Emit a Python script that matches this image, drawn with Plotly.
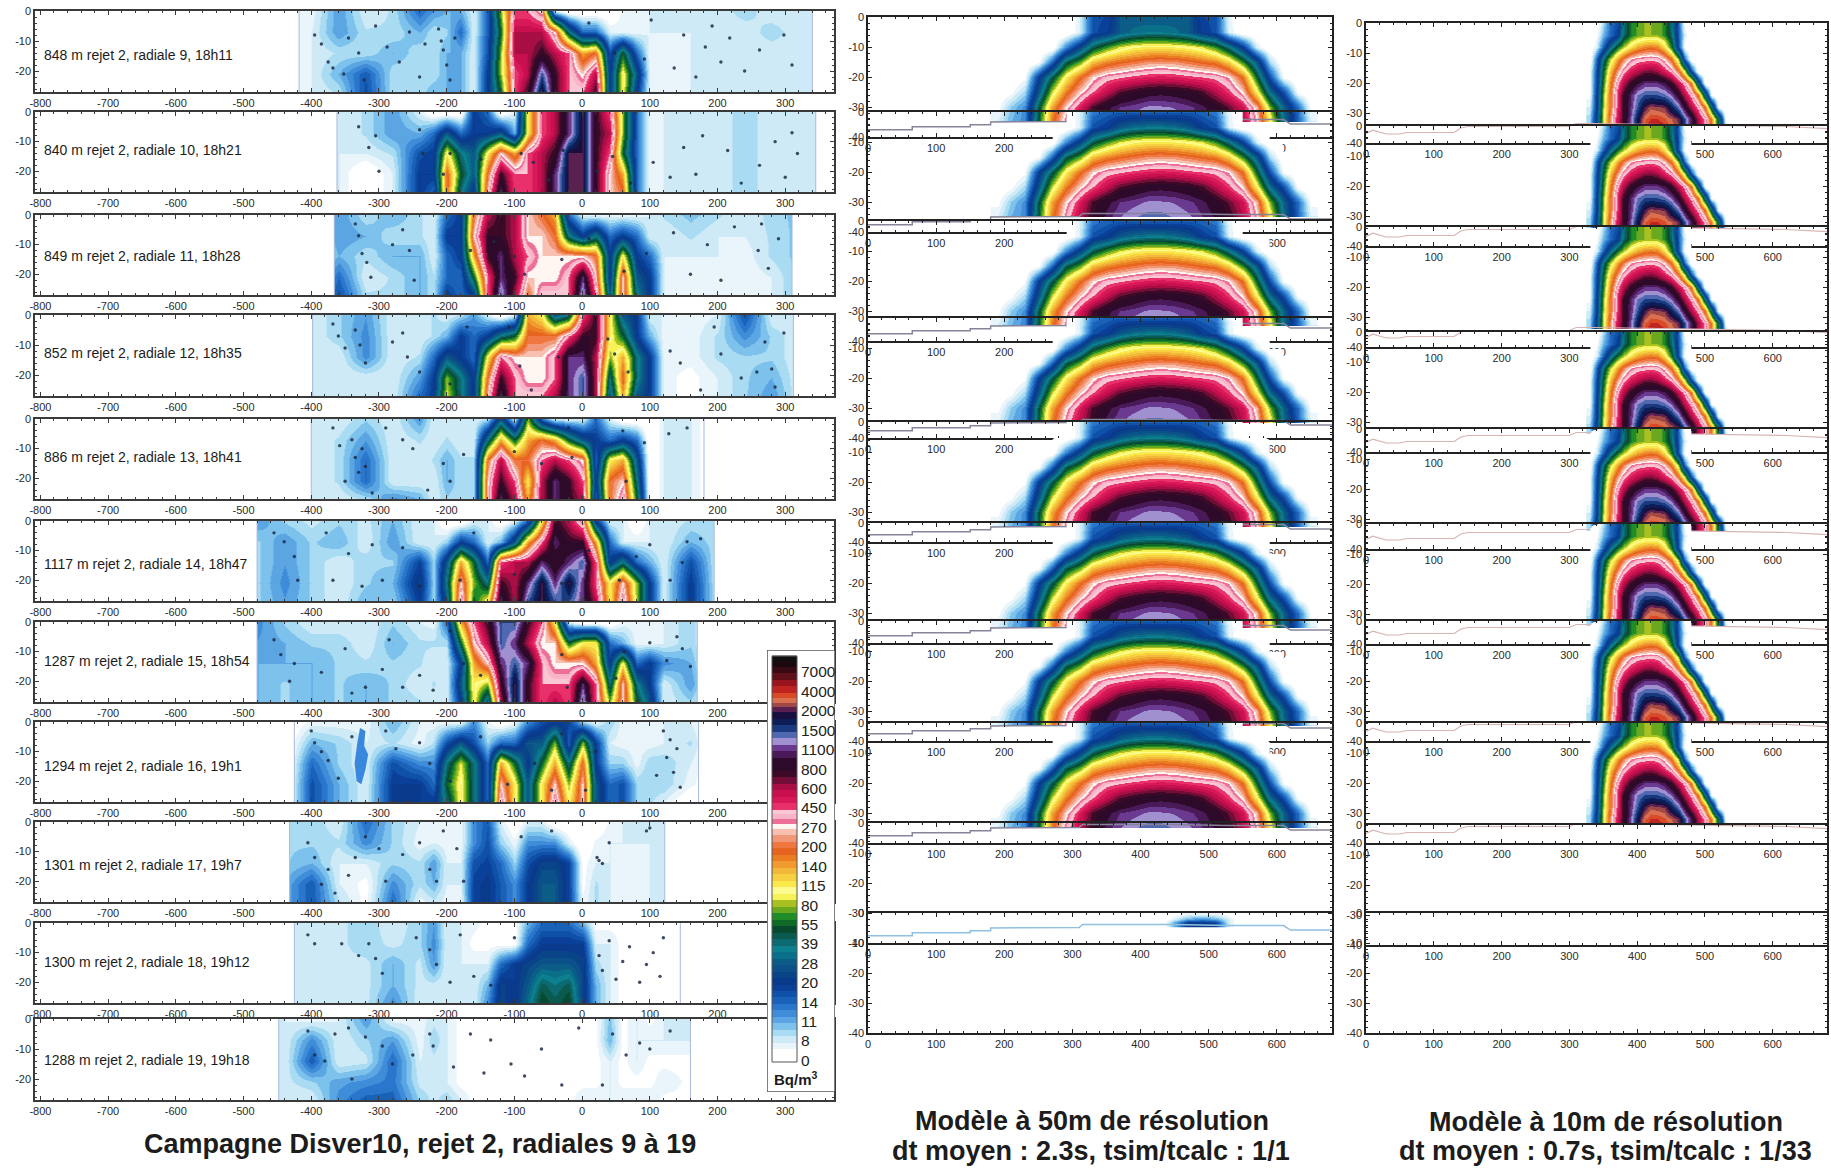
import plotly.graph_objects as go

W, H = 1831, 1168
FONT = "Liberation Sans"

# ---- colour key: legend class labels, bottom class first ----
LEVEL_LABELS = ["0","8","11","14","20","28","39","55","80","115","140","200","270","450","600","800","1100","1500","2000","4000","7000"]
BANDS = [
 ["#ffffff","#ffffff","#eaf5fb"],
 ["#cfeaf7","#a9dcf3","#7cc2ec"],
 ["#5aa5e2","#3f8dd8","#2a76cc"],
 ["#1a62b8","#0f50a8","#0b4098"],
 ["#0a3a8c","#0a4488","#0b5088"],
 ["#0b5c86","#0a6f88","#0d8090"],
 ["#0c6a70","#0a5a50","#084a30"],
 ["#0f6a28","#1f8c28","#6aa820"],
 ["#a8c020","#f6f258","#fbfb90"],
 ["#fbe84a","#f6d040","#f2b83a"],
 ["#f09a30","#ea7d22","#e66420"],
 ["#f07840","#f09878","#f8c0b0"],
 ["#fff6f2","#ec7098","#f9b4c8","#f9c8d4"],
 ["#e8306a","#d81858","#c81050"],
 ["#a80e44","#700e38","#3c0a26"],
 ["#2e0a2a","#2e0a2a","#4a1a58"],
 ["#6a3a90","#a090d0","#5068b0"],
 ["#1a3a80","#0c1e58","#1a1040"],
 ["#5a2050","#a04848","#d87050","#d84a28"],
 ["#c02420","#981520","#601018"],
 ["#3a0a14","#1a0a10","#101010"],
]

# ---- field campaign: nodes of the section (m) and depths (m) ----
LEFT_X = [-480,-440,-400,-360,-320,-280,-240,-220,-200,-180,-160,-140,-120,-100,-80,-60,-40,-20,0,20,40,60,80,100,120,160,200,240,280,320,350]
LEFT_DEPTH = [0,-7,-14,-21,-27]
LEFT_TICKS = [-800,-700,-600,-500,-400,-300,-200,-100,0,100,200,300]

P09 = [[.8,.8,.8,2.3,1, 1.4,3,2.3,2,2, 1,3.3,8,13,13, 12,1,0,0,0, 0,.8,.8,1,1, 1,1,1.6,1,1, 1],
       [.8,.8,1,2.3,1.4, 1.4,2,1.4,1.6,3, 1,3.3,7,14,14, 14,12,6,3,3, 1,.8,.8,1,1, 1,1,1,1.6,1, 1],
       [.8,.8,1,1.4,1.4, 2,1.4,1.4,2,2, 1,3.5,8,14,14, 15,14,13,10,11, 3.5,7,3,.8,.8, 1,1,1,1,1, 1],
       [.8,.8,1,2,3.3, 1.4,1.4,1.4,2,2, 1,4,8,13,14, 17,15,13,12,14, 4,9,5,.8,.8, 1,1,1,1,1, 1],
       [.8,.8,1,1.4,3.5, 1.4,1.4,2,2,2, 1,4,7,13,15, 18,15,13,13,15, 4,9,4,.8,.8, 1,1,1,1,1, 1]]
P10 = [[1,1,1,1,1.4, 2.3,1,0,0,0, 4,3,0,1,9, 13,14,16,18,15, 13,8,3,.8,1, 1,1,1.6,1,1, 1],
       [1,1,1,1,1.4, 2.3,2,3,5,3, 4,4,5,2,9, 13,14,16,18,15, 14,8,3,.8,1, 1,1,1.6,1,1, 1],
       [1,1,1,1,1, 1.4,3.5,4,9,6, 5,9,12,10,13, 14,15,18,18,15, 13,7,3,.8,1, 1,1,1.6,1,1, 1],
       [1,1,1,1,0, 1,4,4,11,7, 5,11,15,13,13, 14,16,18,18,15, 12,10,3,.8,1, 1,1,1.6,1,1, 1],
       [1,1,1,1,0, 1,4,3,11,6, 4,12,16,13,13, 14,16,18,18,15, 12,11,3,.8,1, 1,1,1.6,1,1, 1]]
P11 = [[1,1,1,2.3,1.4, 2,1.4,1,3,4, 11,14,15,14,12, 11,10,3,1,.8, .8,.8,.8,1,1.4, 1.8,1.4,1,1.5,1.8, 1],
       [1,1,1,2.3,2, 1.4,1.4,1,4,4, 12,15,15,14,12, 12,11,6,4,6, 3,4,3,1,1, 1.4,1,1,1.4,1.8, 1],
       [1,1,1,2,1.4, 2,2,1,3,4, 10,15,16,14,13, 12,12,12,12,11, 4,9,4,3,1, 1,1,.8,1.4,1.8, 1],
       [1,1,1,3,1, 1.4,2,1.4,3,3, 7,13,16,15,12, 12,12,13,16,12, 4,12,5,4,1, .8,.8,.8,1,1.8, 1],
       [1,1,1,3.5,1.4, 1.4,2,1.4,4,3, 4,13,17,14,11, 13,13,13,17,13, 5,12,6,4,1, .8,.8,.8,1,1.8, 1]]
P12 = [[1,1,1,1.6,2.3, 1,1,1.4,1,1.4, 2.3,1,0,1,10, 9,5,6,13,15, 9,5,4,1,1, .8,1,3.5,1,1, 1],
       [1,1,1,1.6,2.5, 1,1,1.4,2,4, 3,4,6,7,11, 11,11,13,15,15, 9,7,4,2,.8, .8,1.4,2.5,1.6,1, 1],
       [1,1,1,1,2.5, 1,1.4,3,5,4, 3,9,13,12,12, 12,13,16,16,14, 8,10,6,4,.8, .8,1.4,1.6,1.6,1, 1],
       [1,1,1,1,1, 1,2.3,4,8,6, 4,11,15,13,12, 12,13,16,17,14, 6,11,6,4,.8, .5,1,1.6,2,1, 1],
       [1,1,1,1,1, 1,3,4,8.5,6, 4,12,16,13,13, 13,14,16,17,14, 5,10,5,4,.8, .5,1,1.6,2.3,1, 1]]
P13 = [[1,1,1,1,1.6, 1,2.3,1,1,1, 1,1.4,5,1,8, 3,1,1,1,3, 1,0,0,0,1, 1,0,0,0,0, 0],
       [1,1,1,1.4,2.3, 1,1.4,1,1.4,1, 1,6,10,7,10, 11,10,7,5,4, 3,4,3,0,1, 1,0,0,0,0, 0],
       [1,1,1,1.4,3, 1,1,1.4,2,1.4, 1.4,11,14,11,11, 13,14,13,12,3, 9,10,5,0,1, 1,0,0,0,0, 0],
       [1,1,1,1.4,3, 1,1,1,2,1.4, 1.4,12,15,13,9, 14,16,15,13,4, 11,12,6,0,1, 1,0,0,0,0, 0],
       [1,1,1,1,1.4, 2.5,2,1,1.6,1.4, 1.4,12,16,14,10, 14,16,15,14,3, 11,13,7,0,1, 1,0,0,0,0, 0]]
P14 = [[2.3,1.6,1.2,1.6,1.2, 2,1,1,0,0, 1,1,0,1,3, 9,15,14,12,4, 1,1,0,1,1, 1.4,1.4,0,0,0, 0],
       [1.6,2.3,1.6,2,1, 2.3,1,1,1.6,4, 3,1,2,5,10, 13,16,15,15,10, 3,1,1,1,1, 2,1.4,0,0,0, 0],
       [1.6,2.3,1.6,1,1.6, 1.6,3.8,1.6,5,10, 7,3,13,14,14, 16,15,16,17,13, 4,6,3,2,1, 3.5,1,0,0,0, 0],
       [1.6,2.5,1.6,1,1.6, 2,4.5,1.6,6,12, 8,6,15,14,16, 18,16,18,16,13, 9,12,8,4,1, 4,1,0,0,0, 0],
       [1.6,2.3,1.6,1,2, 1.6,4,1.6,5,13, 7,9,16,14,17, 18,17,17,16,14, 9,13,8,4,1, 4,1,0,0,0, 0]]
P15 = [[2.5,1.6,1,1,1, 1.6,1,.8,3,10, 13,15,17,17,15, 13,9,1,0,0, 0,.8,.8,.8,1, 1.6,0,0,0,0, 0],
       [2.3,2,1.6,1.6,1, 2,1.4,1.4,1.4,7, 12,14,17,16,14, 12,12,7,9,9, 3,2,.8,.8,1, 1.6,0,0,0,0, 0],
       [2,2,2,1.6,1.4, 1.6,1.4,1,1,4, 10,12,16,17,16, 13,12,12,12,10, 4,9,3,4,2.5, 2,0,0,0,0, 0],
       [2,1.6,2,1.6,2, 1.6,1,1.4,1,5, 9,8,15,18,15, 13,13,13,16,13, 6,12,6,4,1, 2.3,0,0,0,0, 0],
       [2,1.6,2,1.6,2, 1.6,1.4,1,1,4, 9,5,14,18,15, 13,14,13,17,13, 8,12,7,5,1, 1.6,0,0,0,0, 0]]
P16 = [[0,0,.8,.8,.8, 2,1,.8,.8,.8, 2.5,.8,0,.8,2.5, 3.5,4,3.8,1.6,.8, 1.6,.8,.8,.8,1, 1,0,0,0,0, 0],
       [0,0,2,1.6,1, 1.4,.8,1.4,3.5,5, 3.5,1.6,3,3,5, 5,8,3,8,4, 1,.8,.8,.8,1, 1.4,0,0,0,0, 0],
       [0,0,3,1.6,1, 3.5,2.5,2.5,6,8.5, 6,3,10,7,4, 7,10,6,11,4, 1.6,1.6,.8,1.6,1.6, 1,0,0,0,0, 0],
       [0,0,3.5,2,1, 4,4,3,7,9, 6,3,12,9,5, 9,12,8,12,5, 3,3.5,1.6,1.6,1.6, .8,0,0,0,0, 0],
       [0,0,3.5,2,1, 4,4,4,6,9, 6,3,13,9,5, 9,13,9,12,5, 3,3.5,1.6,1.4,1, 0,0,0,0,0, 0]]
P17 = [[1.6,1.6,1.6,1,3, 1.6,1,.8,.8,.8, 2.5,3.3,1,0,1, 1,0,0,0,0, .8,1,1,1,1, 0,0,0,0,0, 0],
       [1.6,1.6,1.6,1.4,2.5, 1.6,.8,1,.8,.8, 2.5,3.5,1.6,.8,2.5, 2.5,2.5,1,0,.8, 1,1,1,1,1, 0,0,0,0,0, 0],
       [1.6,1.6,2,1,1, 1.6,1.4,2.3,1,1, 3.5,3.8,3,1.6,3.5, 4.5,4.5,3.8,.5,1, 1,.8,.8,1,1, 0,0,0,0,0, 0],
       [2,2,3.3,1,.5, 2.5,1.4,2,1,1, 3.8,4.2,3.3,2.5,4, 5,5,3.8,.5,1.4, 1,.8,.8,1,1, 0,0,0,0,0, 0],
       [2,2,3.3,1.4,.5, 3,.8,1.2,.8,.8, 3.8,4.2,3.3,2.5,4, 5,5,3.8,.8,1.4, 1,.8,.8,1,1, 0,0,0,0,0, 0]]
P18 = [[1,1,1,1.2,1.6, 1,1.6,2.3,1,1, .8,.5,.5,.5,2, 3,3,3,2,.5, .5,.5,.5,.5,.5, 0,0,0,0,0, 0],
       [1.2,1.2,1.2,1.2,1.6, 1.2,1.6,2.5,1,1, .5,.5,.5,.5,3, 4,4,4,4,1, 1,.5,.5,.5,.5, 0,0,0,0,0, 0],
       [1.2,1.2,1.2,1.2,1.2, 2,1.2,2.3,1,1, 1,1,3,4,4.5, 5,5,5,4.5,1.5, 1,.5,.5,.5,.5, 0,0,0,0,0, 0],
       [1.2,1.2,1.2,1.2,1.2, 2,1.2,1.2,1,1, 1,2,4.5,4,5, 6.5,6,6.5,4.5,2, 1,.5,.5,.5,.5, 0,0,0,0,0, 0],
       [1.2,1.2,1.2,1.2,1.2, 2.5,1,1,1,1, 1,2.5,4.5,4,5.5, 7,6.5,7,4.5,2, 1,.5,.5,.5,.5, 0,0,0,0,0, 0]]
P19 = [[1,1,.8,1,2.3, .8,.8,1.2,1,.5, .5,.5,.5,.5,.5, .5,.5,.5,.5,.5, 1.8,.5,1,.5,1, 1,0,0,0,0, 0],
       [1,1,2.5,1,1.6, 2.3,.8,1.6,1,.5, .5,.5,.5,.5,.5, .5,.5,.5,.5,.5, 2,.5,1,1,1, 1,0,0,0,0, 0],
       [1,1,3.3,1,1.2, 3,1,1.2,1,.5, .5,.5,.5,.5,.5, .5,.5,.5,.5,.5, 1,.5,1,.5,.5, .5,0,0,0,0, 0],
       [1.2,1.2,1.6,2.2,2.5, 2.8,1.2,1.2,1,.5, .5,.5,.5,.5,.5, .5,.5,.5,.5,.5, 1,.5,.5,.5,1, .5,0,0,0,0, 0],
       [1,1,1,2.5,3.2, 3.2,1.6,1.2,1.6,1, .5,.5,.5,.5,.5, .5,.5,.5,1,1, 1,1,1,1,.5, .5,0,0,0,0, 0]]
LEFT_FIELDS = [P09,P10,P11,P12,P13,P14,P15,P16,P17,P18,P19]

LEFT_EXTENT = [(-418,340),(-362,345),(-366,310),(-398,312),(-400,180),(-480,195),(-480,170),(-425,172),(-432,122),(-425,145),(-448,160)]
LEFT_NAMES = ["848 m rejet 2, radiale 9, 18h11","840 m rejet 2, radiale 10, 18h21","849 m rejet 2, radiale 11, 18h28",
              "852 m rejet 2, radiale 12, 18h35","886 m rejet 2, radiale 13, 18h41","1117 m rejet 2, radiale 14, 18h47",
              "1287 m rejet 2, radiale 15, 18h54","1294 m rejet 2, radiale 16, 19h1","1301 m rejet 2, radiale 17, 19h7",
              "1300 m rejet 2, radiale 18, 19h12","1288 m rejet 2, radiale 19, 19h18"]

# the isolated patch of radial 16
P16_PATCH_X = [-328,-320,-322,-316,-320,-326,-333,-336,-332,-328]
P16_PATCH_Y = [-2,-3,-8,-11,-16,-21,-20,-14,-7,-2]

# sample points along the vehicle track of each radial
D09_X = [-395,-385,-375,-368,-352,-345,-330,-322,-305,-288,-270,-255,-240,-232,-212,-208,-205,-200,-195,-188,10,48,92,102,136,150,168,182,192,205,218,240,262,298,310]
D09_Y = [-8,-11,-17,-19,-21,-9,-14,-23,-5,-12,-17,-7,-22,-11,-6,-10,-13,-18,-23,-9,-4,-14,-16,-3,-19,-8,-22,-12,-5,-17,-9,-20,-13,-8,-18]
D10_X = [-330,-315,-305,-300,-240,-235,-205,-195,-150,-90,-72,-50,-28,22,45,72,105,130,150,168,178,215,235,262,285,300,310,318]
D10_Y = [-5,-12,-8,-20,-6,-14,-21,-14,-16,-14,-17,-23,-13,-20,-15,-24,-17,-22,-12,-21,-8,-13,-24,-18,-10,-22,-7,-14]
D11_X = [-335,-330,-325,-318,-312,-280,-265,-255,-248,-165,-130,-100,-85,-30,10,62,95,135,160,185,205,225,260,265,275,290]
D11_Y = [-3,-7,-13,-16,-21,-10,-5,-12,-22,-12,-9,-14,-20,-15,-8,-19,-13,-6,-20,-10,-22,-4,-12,-3,-18,-8]
D12_X = [-368,-360,-350,-335,-328,-320,-280,-265,-258,-240,-195,-170,-108,-92,-75,-35,38,48,68,130,145,175,195,205,235,258,270,280,285,298]
D12_Y = [-3,-7,-11,-5,-10,-16,-9,-6,-14,-19,-23,-4,-4,-17,-25,-14,-8,-13,-19,-12,-16,-25,-4,-13,-21,-19,-9,-18,-24,-6]
D13_X = [-368,-358,-350,-340,-335,-330,-325,-320,-310,-290,-265,-250,-228,-205,-195,-175,-100,-60,-20,-15,60,65,92,128,155]
D13_Y = [-3,-9,-21,-7,-13,-18,-10,-16,-25,-3,-7,-10,-24,-15,-21,-12,-11,-15,-3,-13,-4,-21,-8,-5,-3]
D14_X = [-455,-440,-425,-420,-378,-368,-345,-325,-310,-295,-265,-240,-180,-160,-100,-50,-30,10,55,80,100,130,148,155,175]
D14_Y = [-4,-7,-12,-20,-4,-20,-11,-22,-8,-20,-9,-22,-20,-4,-18,-15,-21,-10,-20,-12,-8,-20,-14,-7,-6]
D15_X = [-455,-445,-432,-425,-385,-350,-340,-320,-295,-285,-265,-240,-220,-195,-175,-150,-30,-22,50,62,100,125,140,148,160]
D15_Y = [-6,-11,-20,-14,-17,-9,-24,-22,-16,-6,-22,-18,-23,-3,-14,-18,-11,-22,-19,-10,-7,-13,-5,-9,-15]
D16_X = [-400,-395,-385,-375,-360,-340,-290,-275,-240,-225,-195,-150,-110,-70,-45,-30,5,20,110,120,125,130,135,140,145]
D16_Y = [-3,-7,-10,-13,-19,-5,-3,-9,-7,-14,-20,-5,-21,-14,-23,-4,-23,-10,-18,-3,-12,-6,-17,-9,-22]
D17_X = [-405,-395,-385,-375,-365,-345,-335,-320,-300,-290,-265,-240,-225,-215,-205,-185,-175,-45,-90,40,22,25,30,95,100]
D17_Y = [-7,-12,-21,-16,-24,-18,-12,-5,-9,-20,-11,-7,-16,-20,-3,-9,-20,-3,-5,-7,-12,-13,-14,-3,-2]
D18_X = [-405,-395,-355,-330,-315,-305,-295,-245,-225,-215,-195,-180,-160,-135,-100,25,30,40,50,60,70,85,95,105,115,120]
D18_Y = [-4,-7,-7,-11,-7,-12,-17,-5,-9,-14,-20,-4,-18,-21,-5,-11,-16,-6,-19,-13,-8,-20,-14,-10,-18,-5]
D19_X = [-405,-395,-380,-365,-345,-340,-320,-295,-280,-250,-225,-220,-190,-165,-145,-135,-105,-85,-60,-30,-5,30,45,65,85,100,130]
D19_Y = [-4,-12,-14,-5,-3,-20,-6,-9,-15,-12,-5,-9,-16,-5,-18,-7,-15,-19,-10,-22,-3,-22,-5,-12,-8,-10,-4]
LEFT_DOTS_X = [D09_X,D10_X,D11_X,D12_X,D13_X,D14_X,D15_X,D16_X,D17_X,D18_X,D19_X]
LEFT_DOTS_Y = [D09_Y,D10_Y,D11_Y,D12_Y,D13_Y,D14_Y,D15_Y,D16_Y,D17_Y,D18_Y,D19_Y]

# ---- 50 m model ----
MID_X = [190,210,230,250,270,290,310,330,350,370,390,410,430,450,470,490,510,530,550,570,590,610,630,650]
MID_DEPTH = [0,-5,-10,-15,-20,-25,-30,-34.6,-34.8]
MID_TOP_A = [0,0,0,0,0,0,1,3.5,3.7,5,5,5,5,5,5,3.7,3.5,.8,0,0,0,0,0,0]
MID_TOP_B = [0,0,0,0,0,0,1,2.8,3.1,3.3,3.3,3.3,3.3,3.3,3.3,3.1,2.8,.8,0,0,0,0,0,0]
MID_BODY = [
 [0,0,0,0,0,0,1,3.5,4,5,5.5,5.7,5.7,5.5,5,4,3.5,1,0,0,0,0,0,0],
 [0,0,0,0,0,2.5,4.5,6.5,7.6,8.4,8.9,9.1,9.1,9,8.8,8.4,7.5,6,4,1,0,0,0,0],
 [0,0,0,.5,3,6.5,7.8,9.7,10.4,10.8,11.1,11.4,11.5,11.4,11.1,10.8,10.5,9.5,7.5,5,1.5,0,0,0],
 [0,0,.5,4,6.5,9,10.7,12,12.7,12.9,13.2,13.4,13.5,13.4,13.2,13,12.8,12.2,10.7,7,3.5,.5,0,0],
 [0,.5,1.5,5,8.3,10.5,12,13,13.9,14.7,15.1,15.4,15.5,15.4,15.2,14.8,14,13.2,12,9,5.5,3.5,.5,0],
 [.5,1.7,2.5,6.7,10,12,13.5,14.8,15.5,16,16.2,16.4,16.4,16.3,16.1,15.8,15.3,14.6,13.7,11.7,8,5.2,3,.5],
 [1,2,2.5,7,10.5,12.5,14,15,15.8,16.3,16.6,16.8,16.8,16.6,16.4,16,15.6,15,14,12.2,9,5.5,3,1],
 [1,2,2.5,7,10.5,12.5,14,15,15.8,16.3,16.6,16.8,16.8,16.6,16.4,16,15.6,15,14,12.2,9,5.5,3,1],
]
MID_BLOB_X = [430,450,470,490,510,530,550]
MID_BLOB_DEPTH = [-30.5,-32,-33,-34.6,-34.8]
MID_BLOB = [[0,.5,.8,.8,.8,.5,0],[0,1,2.2,2.5,2.2,1,0],[0,2,4,4.2,3.8,1,0],[0,2,4.2,4.4,4,1,0],[0,2,4.2,4.4,4,1,0]]
MID_TOPS = [17,112,221,318,422,523,621,723,823,913]
MID_BATHY_X = [0,65,65,150,150,180,180,250,255,310,315,445,530,610,620,681]
MID_BATHY_Y = [-37.6,-37.6,-36.6,-36.6,-35.9,-35.9,-35,-35,-34.8,-34.8,-33.8,-33.8,-34.2,-34.2,-35.7,-35.7]

# ---- 10 m model ----
RIGHT_X = [330,340,350,360,370,380,390,400,410,420,430,440,450,460,470,480,490,500,510,520,530,540]
RIGHT_DEPTH = [0,-4,-8,-12,-16,-20,-24,-28,-32,-33.6,-33.8]
RIGHT_BODY = [
 [0,0,1.5,3,3.5,6,7.3,7.7,8,8,7.9,7.5,6,3,.5,0,0,0,0,0,0,0],
 [0,.5,2,3,4,6.2,7.3,7.8,8,8,8,7.5,6.2,3.3,1,0,0,0,0,0,0,0],
 [0,1,3.2,5.5,7.2,8.2,9.2,10,10.4,10.6,10.4,9.3,7.3,3.5,.5,0,0,0,0,0,0,0],
 [0,3,6.2,8.3,10,11.3,12.2,12.6,12.7,12.8,12.7,12,10.7,8,3,0,0,0,0,0,0,0],
 [.5,3.5,7,9.7,11.5,12.7,13.5,14,14.4,14.5,14.2,13.5,12.7,11,8.5,3.5,0,0,0,0,0,0],
 [.5,3.7,7.5,10.5,12.7,14,15,15.6,16,16,16,15.7,15,13.8,12.7,10.5,5,0,0,0,0,0],
 [.5,4,8,11,13.3,15,15.9,16.7,17,17,17,16.8,16.3,15.3,14,12.7,10.5,5.5,.5,0,0,0],
 [1,4,8.3,11,13.3,15,16,17,18,18.4,18.3,18.2,17.5,16.7,15.5,14,12.7,10.5,6,.5,0,0],
 [1.5,4.5,8.5,11.5,13.7,15,16.2,17.7,18.7,19,19,18.8,18.5,18.2,17,15.8,14,12.7,10.5,6.5,.5,0],
 [1.5,4.5,8.5,11.5,13.7,15,16.2,17.7,18.8,19.2,19.2,19,18.6,18.2,17,15.8,14,12.7,10.5,6.5,1,0],
 [1.5,4.5,8.5,11.5,13.7,15,16.2,17.7,18.8,19.2,19.2,19,18.6,18.2,17,15.8,14,12.7,10.5,6.5,1,0],
]
RIGHT_TOPS = [23,126,227,332,429,524,621,723,825,913]
RIGHT_BATHY_X = [0,10,30,50,60,130,140,150,300,310,335,530,620,680]
RIGHT_BATHY_Y = [-36.8,-35.7,-37,-37,-36.5,-36.5,-35,-34.5,-34.5,-33.5,-33.5,-34.2,-34.5,-35.2]

MODEL_TICKS = [0,100,200,300,400,500,600]
MODEL_DEPTH_TICKS = [0,-10,-20,-30,-40]
LEFT_DEPTH_TICKS = [0,-10,-20]

LEFT_TOPS = [11,112,215,315,419,521,622,722,822,923,1019]
LEFT_BOTTOMS = [92,192,295,396,499,601,702,802,902,1003,1100]
LEFT_TEXT_Y = [55,150,256,353,457,564,661,766,865,962,1060]

# ---- colour scale from the key ----
NL = len(BANDS)
scale = [[0, "rgba(255,255,255,0)"], [0.02/NL, "rgba(255,255,255,0)"]]
for L, cols in enumerate(BANDS):
    for k, c in enumerate(cols):
        a = (L + k/len(cols))/NL
        b = (L + (k+1)/len(cols))/NL
        scale += [[max(a, 0.02/NL), c], [b, c]]

fig = go.Figure()
layout = {}
n = 0

def new_axes(px_l, px_r, px_t, px_b, xrange, yrange, xticks, yticks, xminor, yminor, col, lw=1.5, size=11):
    global n
    n += 1
    sfx = "" if n == 1 else str(n)
    tick = dict(showgrid=False, zeroline=False, showline=True, linecolor=col, linewidth=lw, mirror="ticks", automargin=False,
                ticks="inside", ticklen=4, tickwidth=1, tickcolor=col, tickfont=dict(family=FONT, size=size, color="#2a2a2a"),
                tickmode="array")
    layout["xaxis"+sfx] = dict(domain=[px_l/W, px_r/W], range=xrange, anchor="y"+sfx, tickvals=xticks,
                               ticktext=[str(v) for v in xticks],
                               minor=dict(tickmode="linear", tick0=0, dtick=xminor, ticks="inside", ticklen=2, tickcolor=col), **tick)
    layout["yaxis"+sfx] = dict(domain=[1-px_b/H, 1-px_t/H], range=yrange, anchor="x"+sfx, tickvals=yticks,
                               ticktext=[str(v) for v in yticks],
                               minor=dict(tickmode="linear", tick0=0, dtick=yminor, ticks="inside", ticklen=2, tickcolor=col), **tick)
    return ("x"+sfx, "y"+sfx)

def heat(ax, x, depth, rows):
    assert all(len(r) == len(x) for r in rows), (x[0], [len(r) for r in rows])
    assert len(rows) == len(depth)
    fig.add_trace(go.Heatmap(x=x, y=depth[::-1], z=rows[::-1], coloraxis="coloraxis", zsmooth="best",
                             xaxis=ax[0], yaxis=ax[1], hoverinfo="skip"))

def key_axes(px_l, px_r, px_t, px_b, y0, y1):
    global n
    n += 1
    sfx = str(n)
    layout["xaxis"+sfx] = dict(domain=[px_l/W, px_r/W], range=[px_l, px_r], anchor="y"+sfx, visible=False, automargin=False)
    layout["yaxis"+sfx] = dict(domain=[1-px_b/H, 1-px_t/H], range=[y0, y1], anchor="x"+sfx, visible=False, automargin=False)
    return ("x"+sfx, "y"+sfx)

# ---- left column ----
for i, field in enumerate(LEFT_FIELDS):
    ax = new_axes(35, 834, LEFT_TOPS[i], LEFT_BOTTOMS[i], [-808, 372], [-27, 0], LEFT_TICKS, LEFT_DEPTH_TICKS, 20, 2, "#3a3a3a")
    heat(ax, LEFT_X, LEFT_DEPTH, field)
    lo, hi = LEFT_EXTENT[i]
    for a, b in ((-808, lo), (hi, 372)):
        fig.add_trace(go.Scatter(x=[a, b, b, a, a], y=[0, 0, -27, -27, 0], mode="lines", fill="toself",
                                 fillcolor="white", line=dict(width=0), xaxis=ax[0], yaxis=ax[1], hoverinfo="skip"))
    for e in (lo, hi):
        fig.add_trace(go.Scatter(x=[e, e], y=[0, -27], mode="lines", line=dict(color="#a9b8e0", width=1),
                                 xaxis=ax[0], yaxis=ax[1], hoverinfo="skip"))
    if field is P16:
        fig.add_trace(go.Scatter(x=P16_PATCH_X, y=P16_PATCH_Y, mode="lines", fill="toself", fillcolor="#3a88dd",
                                 line=dict(width=0), xaxis=ax[0], yaxis=ax[1], hoverinfo="skip"))
    fig.add_trace(go.Scatter(x=LEFT_DOTS_X[i], y=LEFT_DOTS_Y[i], mode="markers",
                             marker=dict(size=3.4, color="#1c2c46", opacity=0.85), xaxis=ax[0], yaxis=ax[1], hoverinfo="skip"))

# ---- colour key, drawn over the left column ----
BAR_PX_L0, BAR_PX_STEP = 1062, 19.42
y_top = (BAR_PX_L0-650)/BAR_PX_STEP
y_bot = (BAR_PX_L0-1092)/BAR_PX_STEP
ax = key_axes(767, 835, 650, 1092, y_bot, y_top)
fig.add_trace(go.Scatter(x=[767, 835, 835, 767, 767], y=[y_bot, y_bot, y_top, y_top, y_bot], mode="lines", fill="toself",
                         fillcolor="white", line=dict(color="#555", width=1.5), xaxis=ax[0], yaxis=ax[1], hoverinfo="skip"))
ax = key_axes(767, 835, 650, 1092, y_bot, y_top)
bar_edges = [0.05 + j*0.0835 for j in range(251)]
bar_mid = [(a+b)/2 for a, b in zip(bar_edges, bar_edges[1:])]
fig.add_trace(go.Heatmap(x=[772, 797], y=bar_edges, z=[[v] for v in bar_mid], coloraxis="coloraxis", zsmooth=False,
                         xaxis=ax[0], yaxis=ax[1], hoverinfo="skip"))
fig.add_trace(go.Scatter(x=[772, 797, 797, 772, 772], y=[0, 0, 20.9, 20.9, 0], mode="lines", line=dict(color="#555", width=1),
                         xaxis=ax[0], yaxis=ax[1], hoverinfo="skip"))
fig.add_trace(go.Scatter(x=[801]*len(LEVEL_LABELS), y=list(range(len(LEVEL_LABELS))), text=LEVEL_LABELS, mode="text",
                         textposition="middle right", textfont=dict(family=FONT, size=15.5, color="#222"), cliponaxis=False,
                         xaxis=ax[0], yaxis=ax[1], hoverinfo="skip"))

# ---- middle column ----
for i, top in enumerate(MID_TOPS):
    ax = new_axes(868, 1332, top, top+120, [0, 681], [-40, 0], MODEL_TICKS, MODEL_DEPTH_TICKS, 20, 2, "#222", 1.5)
    if i < 8:
        heat(ax, MID_X, MID_DEPTH, [MID_TOP_A if i == 0 else MID_TOP_B] + MID_BODY)
    elif i == 8:
        heat(ax, MID_BLOB_X, MID_BLOB_DEPTH, MID_BLOB)
    colour = "#8fc0e0" if i == 8 else ("rgba(0,0,0,0)" if i == 9 else "#86849a")
    fig.add_trace(go.Scatter(x=MID_BATHY_X, y=MID_BATHY_Y, mode="lines", line=dict(color=colour, width=1.5),
                             xaxis=ax[0], yaxis=ax[1], hoverinfo="skip"))

# ---- right column ----
for i, top in enumerate(RIGHT_TOPS):
    ax = new_axes(1366, 1827, top, top+120, [0, 680], [-40, 0], MODEL_TICKS, MODEL_DEPTH_TICKS, 20, 2, "#222", 1.5)
    if i < 8:
        heat(ax, RIGHT_X, RIGHT_DEPTH, RIGHT_BODY)
    colour = "#d8b4b4" if i < 8 else "rgba(0,0,0,0)"
    fig.add_trace(go.Scatter(x=RIGHT_BATHY_X, y=RIGHT_BATHY_Y, mode="lines", line=dict(color=colour, width=1.2),
                             xaxis=ax[0], yaxis=ax[1], hoverinfo="skip"))

# ---- texts ----
ann = []
def text(px, py, s, size, bold=False, anchor="center"):
    ann.append(dict(xref="paper", yref="paper", x=px/W, y=1-py/H, text=("<b>%s</b>" % s) if bold else s, showarrow=False,
                    xanchor=anchor, yanchor="middle", font=dict(family=FONT, size=size, color="#1c1c1c")))
for s, py in zip(LEFT_NAMES, LEFT_TEXT_Y):
    text(42, py, s, 14, anchor="left")
text(796, 1078, "Bq/m<sup>3</sup>", 15, bold=True)
text(420, 1144, "Campagne Disver10, rejet 2, radiales 9 à 19", 27, bold=True)
text(1092, 1121, "Modèle à 50m de résolution", 27, bold=True)
text(1091, 1151, "dt moyen : 2.3s, tsim/tcalc : 1/1", 27, bold=True)
text(1606, 1122, "Modèle à 10m de résolution", 27, bold=True)
text(1605, 1151, "dt moyen : 0.7s, tsim/tcalc : 1/33", 27, bold=True)

fig.update_layout(width=W, height=H, margin=dict(l=0, r=0, t=0, b=0), autosize=False, showlegend=False,
                  paper_bgcolor="white", plot_bgcolor="rgba(0,0,0,0)",
                  coloraxis=dict(colorscale=scale, cmin=0, cmax=NL, showscale=False), annotations=ann, **layout)
fig.write_html("out.html", config=dict(displayModeBar=False), post_script="document.body.style.margin='0';")
